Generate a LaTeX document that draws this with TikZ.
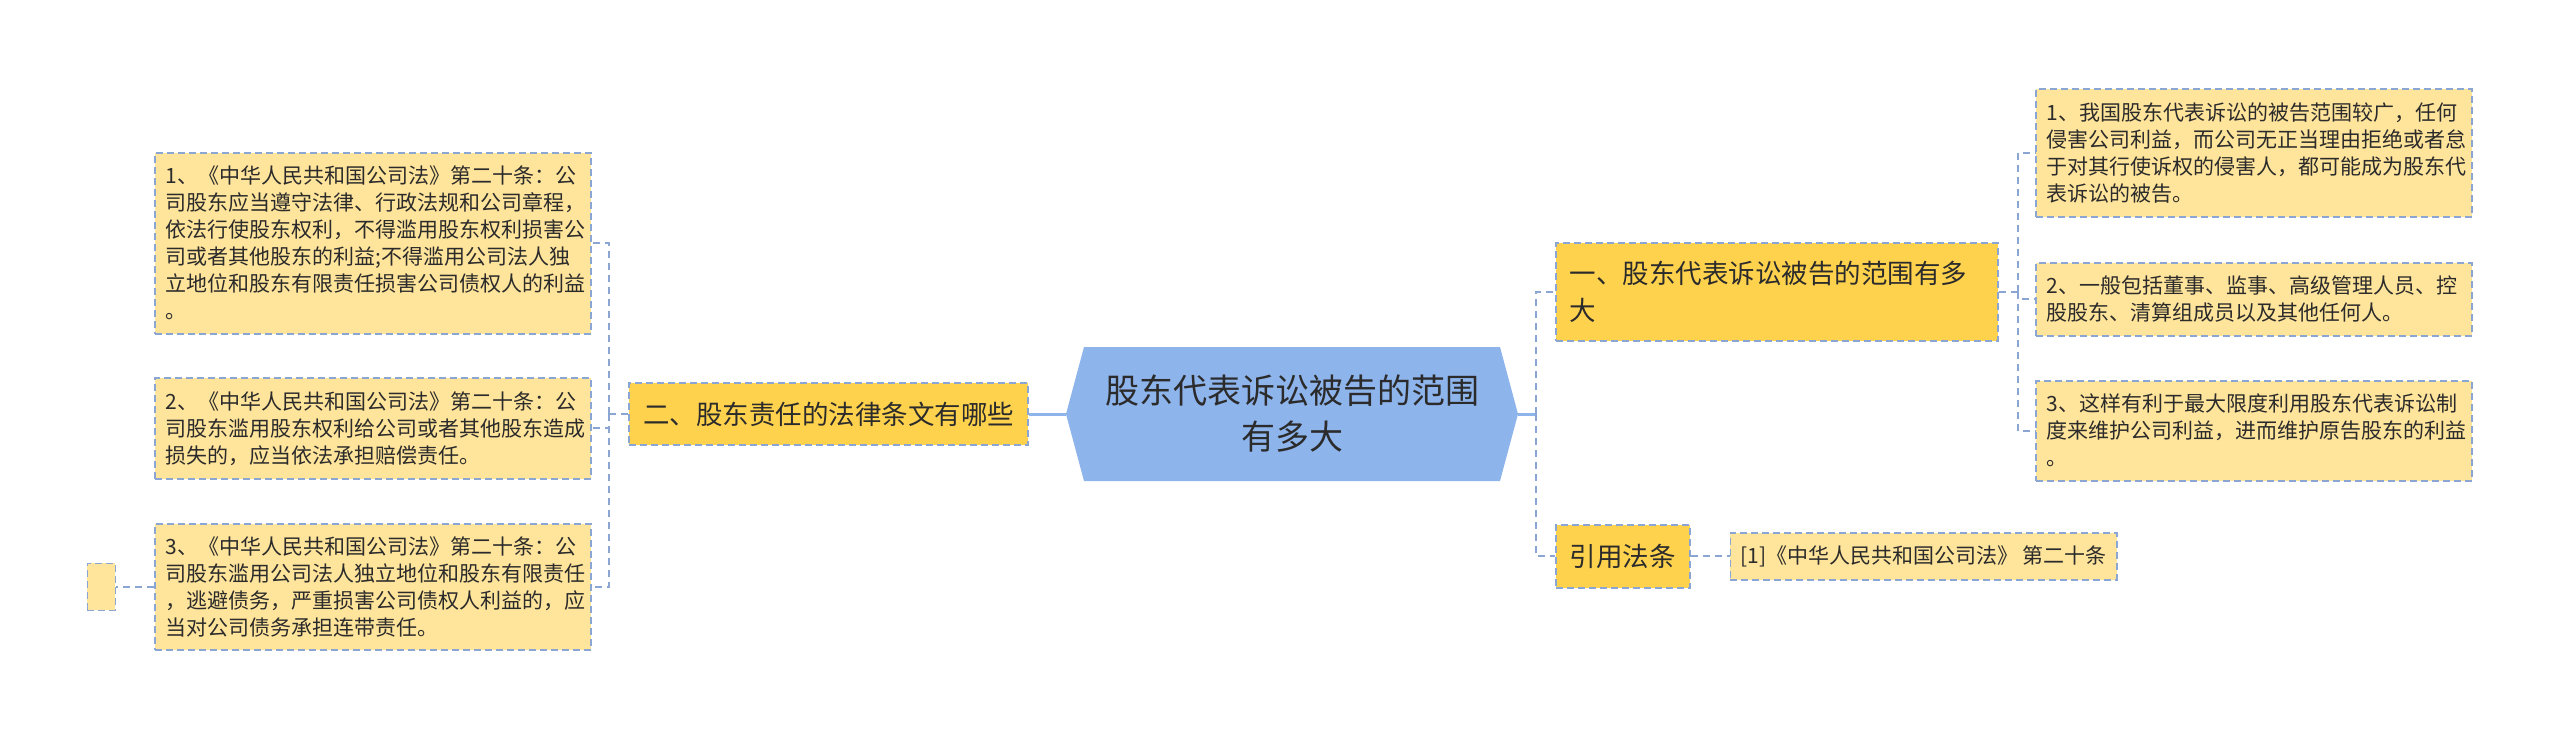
\documentclass[tikz,border=0pt]{standalone}
\usepackage{fontspec}
\newfontfamily\zhfont{Noto Sans CJK SC}
\usetikzlibrary{positioning}
\definecolor{MapBlue}{HTML}{8EB4EC}
\definecolor{MapGold}{HTML}{FFD24E}
\definecolor{MapGoldLight}{HTML}{FFE49B}
\definecolor{MapLine}{HTML}{8CA6D4}
\definecolor{MapText}{HTML}{2B2B2B}
\tikzset{
  hexbox/.style={minimum width=452pt,minimum height=134pt,inner sep=0pt,
    fill=white,align=center,text=MapText,
    font=\zhfont\fontsize{34}{46}\selectfont,
    path picture={\fill[MapBlue] (path picture bounding box.west)
      -- ([xshift=18pt]path picture bounding box.north west)
      -- ([xshift=-18pt]path picture bounding box.north east)
      -- (path picture bounding box.east)
      -- ([xshift=-18pt]path picture bounding box.south east)
      -- ([xshift=18pt]path picture bounding box.south west) -- cycle;}},
  topicbox/.style={fill=MapGold,draw=MapLine,line width=1.5pt,
    dash pattern=on 7pt off 4pt,inner xsep=14pt,inner ysep=0pt,
    align=left,text=MapText,font=\zhfont\fontsize{26.5}{37}\selectfont},
  leafbase/.style={fill=MapGoldLight,draw=MapLine,line width=1.5pt,
    dash pattern=on 7pt off 4pt,inner xsep=11pt,inner ysep=0pt,
    align=left,text=MapText,font=\zhfont\fontsize{21}{27}\selectfont},
  leafbox/.style={leafbase,text width=414pt},
  link/.style={draw=MapLine,line width=2pt,dash pattern=on 7pt off 5pt},
  trunk/.style={draw=MapBlue,line width=3pt},
}
\begin{document}
\begin{tikzpicture}[x=1pt,y=-1pt]
  \fill[white] (0,0) rectangle (2560,739);
  \useasboundingbox (0,0) rectangle (2560,739);

  \node[hexbox] (hex) at (1292,414) {股东代表诉讼被告的范围\\有多大};
  \node[topicbox,minimum height=62pt,left=37pt of hex] (sec2) {二、股东责任的法律条文有哪些};
  \node[topicbox,text width=414pt,minimum height=98pt,anchor=north west] (sec1) at (1555,242)
    {一、股东代表诉讼被告的范围有多\\大};
  \node[topicbox,minimum height=63pt,anchor=north west] (sec3) at (1555,524) {引用法条};
  \node[leafbase,inner xsep=10pt,minimum width=385pt,minimum height=47pt,right=39pt of sec3] (law)
    {[1]《中华人民共和国公司法》 第二十条};

  \node[leafbox,minimum height=181pt,anchor=north west] (lit1) at (154,152)
    {1、《中华人民共和国公司法》第二十条：公\\司股东应当遵守法律、行政法规和公司章程，\\依法行使股东权利，不得滥用股东权利损害公\\司或者其他股东的利益;不得滥用公司法人独\\立地位和股东有限责任损害公司债权人的利益\\。};
  \node[leafbox,minimum height=101pt,anchor=north west] (lit2) at (154,377)
    {2、《中华人民共和国公司法》第二十条：公\\司股东滥用股东权利给公司或者其他股东造成\\损失的，应当依法承担赔偿责任。};
  \node[leafbox,minimum height=126pt,anchor=north west] (lit3) at (154,523)
    {3、《中华人民共和国公司法》第二十条：公\\司股东滥用公司法人独立地位和股东有限责任\\，逃避债务，严重损害公司债权人利益的，应\\当对公司债务承担连带责任。};
  \node[leafbase,minimum width=28pt,minimum height=47pt,inner sep=0pt,left=38pt of lit3] (stub) {};

  \node[leafbox,minimum height=128pt,anchor=north west] (arg1) at (2035,88)
    {1、我国股东代表诉讼的被告范围较广，任何\\侵害公司利益，而公司无正当理由拒绝或者怠\\于对其行使诉权的侵害人，都可能成为股东代\\表诉讼的被告。};
  \node[leafbox,minimum height=73pt,anchor=north west] (arg2) at (2035,262)
    {2、一般包括董事、监事、高级管理人员、控\\股股东、清算组成员以及其他任何人。};
  \node[leafbox,minimum height=100pt,anchor=north west] (arg3) at (2035,380)
    {3、这样有利于最大限度利用股东代表诉讼制\\度来维护公司利益，进而维护原告股东的利益\\。};

  \draw[trunk] (sec2) -- (hex);
  \draw[trunk] (hex.east) -- ++(18,0) coordinate (rfork);
  \draw[link] (rfork) |- (sec1.west);
  \draw[link] (rfork) |- (sec3.west);

  \coordinate (lfork) at ([xshift=-19pt]sec2.west);
  \draw[link] (sec2.west) -- (lfork);
  \foreach \n in {lit1,lit2,lit3}
    \draw[link] (lfork) |- (\n.east);

  \coordinate (sfork) at ([xshift=19pt]sec1.east);
  \draw[link] (sec1.east) -- (sfork);
  \foreach \n in {arg1,arg2,arg3}
    \draw[link] (sfork) |- (\n.west);

  \draw[link] (sec3) -- (law);
  \draw[link] (lit3) -- (stub);
\end{tikzpicture}
\end{document}
